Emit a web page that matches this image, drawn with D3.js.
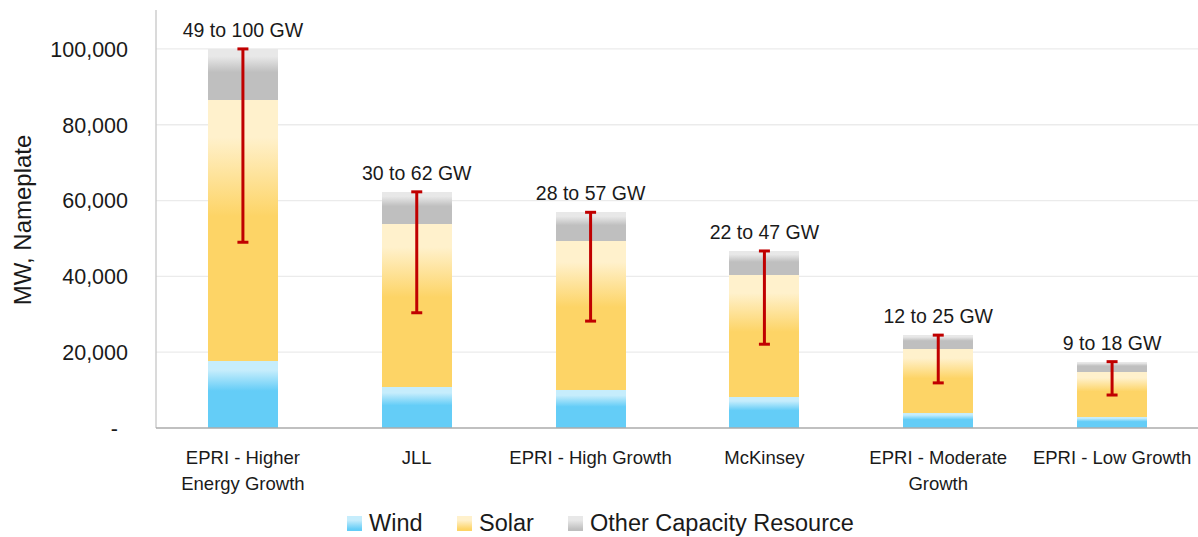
<!DOCTYPE html>
<html>
<head>
<meta charset="utf-8">
<script src="https://cdn.jsdelivr.net/npm/d3@7"></script>
<style>
  html, body { margin: 0; padding: 0; background: #fff; }
  svg { display: block; font-family: "Liberation Sans", Arial, sans-serif; }
</style>
</head>
<body>
<svg id="chart" width="1198" height="537"></svg>
<script>
// ---- data (MW) ----
const categories = ["EPRI - Higher Energy Growth", "JLL", "EPRI - High Growth", "McKinsey", "EPRI - Moderate Growth", "EPRI - Low Growth"];
const windLow   = [8700, 5300, 5000, 4100, 2000, 1500];
const windHigh  = [17800, 10800, 10000, 8300, 4000, 3000];
const solarLow  = [33800, 21000, 19500, 15000, 8000, 5900];
const solarHigh = [68700, 43100, 39300, 32100, 16900, 11900];
const otherLow  = [6500, 4100, 3700, 3000, 1900, 1300];
const otherHigh = [13500, 8400, 7600, 6300, 3600, 2600];
const rangeLabels = ["49 to 100 GW", "30 to 62 GW", "28 to 57 GW", "22 to 47 GW", "12 to 25 GW", "9 to 18 GW"];
const yTicks = [0, 20000, 40000, 60000, 80000, 100000];
const seriesNames = ["Wind", "Solar", "Other Capacity Resource"];

const svg = d3.select("#chart");
const W = 1198, H = 537;
const m = { left: 156, right: 1199, top: 11, bottom: 428 };

const x = d3.scaleBand().domain(categories).range([m.left, m.right]).paddingInner(0.597).paddingOuter(0.2985);
const y = d3.scaleLinear().domain([0, 110000]).range([m.bottom, m.top]);

// gradients
const defs = svg.append("defs");
const palette = {
  wind:  { light: "#c6edfc", full: "#64cdf7" },
  solar: { light: "#fff1cc", full: "#fdd466" },
  other: { light: "#e8e8e8", full: "#bfbfbf" }
};
Object.entries(palette).forEach(([k, c]) => {
  const g = defs.append("linearGradient").attr("id", "g-" + k).attr("x1", 0).attr("y1", 0).attr("x2", 0).attr("y2", 1);
  g.append("stop").attr("offset", "0%").attr("stop-color", c.light);
  g.append("stop").attr("offset", "28%").attr("stop-color", c.light);
  g.append("stop").attr("offset", "88%").attr("stop-color", c.full);
  g.append("stop").attr("offset", "100%").attr("stop-color", c.full);
});

// gridlines
svg.append("g")
  .selectAll("line").data(yTicks.filter(d => d > 0)).join("line")
  .attr("x1", m.left).attr("x2", W)
  .attr("y1", d => y(d)).attr("y2", d => y(d))
  .attr("stroke", "#ebebeb").attr("stroke-width", 1.3);

// stacked segments
const segs = [];
categories.forEach((c, i) => {
  const parts = [
    { k: "wind", v: windLow[i], solid: true },
    { k: "wind", v: windHigh[i] - windLow[i], solid: false },
    { k: "solar", v: solarLow[i], solid: true },
    { k: "solar", v: solarHigh[i] - solarLow[i], solid: false },
    { k: "other", v: otherLow[i], solid: true },
    { k: "other", v: otherHigh[i] - otherLow[i], solid: false }
  ];
  let acc = 0;
  parts.forEach(p => { segs.push({ c, k: p.k, solid: p.solid, y0: acc, y1: acc + p.v }); acc += p.v; });
});

svg.append("g").selectAll("rect").data(segs).join("rect")
  .attr("x", d => x(d.c))
  .attr("width", x.bandwidth())
  .attr("y", d => y(d.y1))
  .attr("height", d => y(d.y0) - y(d.y1))
  .attr("fill", d => d.solid ? palette[d.k].full : `url(#g-${d.k})`)
  .attr("shape-rendering", "crispEdges");

// axes lines
svg.append("line").attr("x1", m.left).attr("x2", m.left).attr("y1", m.top - 1).attr("y2", m.bottom)
  .attr("stroke", "#c6c6c6").attr("stroke-width", 1.3);
svg.append("line").attr("x1", m.left).attr("x2", W).attr("y1", m.bottom).attr("y2", m.bottom)
  .attr("stroke", "#ababab").attr("stroke-width", 1.6);

// y axis ticks
const yAxis = d3.axisLeft(y).tickValues(yTicks).tickSize(0).tickPadding(0)
  .tickFormat(d => d === 0 ? "-" : d3.format(",")(d));
const ya = svg.append("g").attr("transform", `translate(128,0)`).call(yAxis);
ya.select(".domain").remove();
ya.selectAll("text").attr("font-size", "21.5px").attr("fill", "#1a1a1a")
  .attr("font-family", "'Liberation Sans', Arial, sans-serif")
  .attr("dx", d => d === 0 ? -10 : 0)
  .attr("dy", "0.34em");

// y title
svg.append("text").attr("transform", "translate(31,220) rotate(-90)")
  .attr("text-anchor", "middle").attr("font-size", "24px").attr("fill", "#1a1a1a")
  .text("MW, Nameplate");

// x labels with wrapping
const xl = svg.append("g");
categories.forEach(c => {
  const t = xl.append("text").attr("x", x(c) + x.bandwidth() / 2).attr("y", 464)
    .attr("text-anchor", "middle").attr("font-size", "18.5px").attr("fill", "#1a1a1a");
  const words = c.split(" ");
  let line = [];
  let ts = t.append("tspan").attr("x", x(c) + x.bandwidth() / 2).attr("dy", 0);
  words.forEach(w => {
    line.push(w);
    ts.text(line.join(" "));
    if (ts.node().getComputedTextLength() > 168 && line.length > 1) {
      line.pop();
      ts.text(line.join(" "));
      line = [w];
      ts = t.append("tspan").attr("x", x(c) + x.bandwidth() / 2).attr("dy", 26).text(w);
    }
  });
});

// error bars (low total -> high total)
const lowTot = categories.map((c, i) => windLow[i] + solarLow[i] + otherLow[i]);
const highTot = categories.map((c, i) => windHigh[i] + solarHigh[i] + otherHigh[i]);
const eb = svg.append("g").attr("stroke", "#c00000").attr("stroke-width", 3);
categories.forEach((c, i) => {
  const cx = x(c) + x.bandwidth() / 2;
  eb.append("line").attr("x1", cx).attr("x2", cx).attr("y1", y(lowTot[i])).attr("y2", y(highTot[i]));
  eb.append("line").attr("x1", cx - 5.5).attr("x2", cx + 5.5).attr("y1", y(lowTot[i])).attr("y2", y(lowTot[i]));
  eb.append("line").attr("x1", cx - 5.5).attr("x2", cx + 5.5).attr("y1", y(highTot[i])).attr("y2", y(highTot[i]));
});

// range labels
svg.append("g").selectAll("text").data(categories).join("text")
  .attr("x", c => x(c) + x.bandwidth() / 2)
  .attr("y", (c, i) => y(highTot[i]) - 12)
  .attr("text-anchor", "middle").attr("font-size", "19.5px").attr("fill", "#1a1a1a")
  .text((c, i) => rangeLabels[i]);

// legend
const legendX = [347, 457, 568];
const keys = ["wind", "solar", "other"];
const lg = svg.append("g");
seriesNames.forEach((n, i) => {
  lg.append("rect").attr("x", legendX[i]).attr("y", 516).attr("width", 15).attr("height", 15)
    .attr("fill", `url(#g-${keys[i]})`);
  lg.append("text").attr("x", legendX[i] + 22).attr("y", 531).attr("font-size", "23.5px").attr("fill", "#1a1a1a").text(n);
});
</script>
</body>
</html>
